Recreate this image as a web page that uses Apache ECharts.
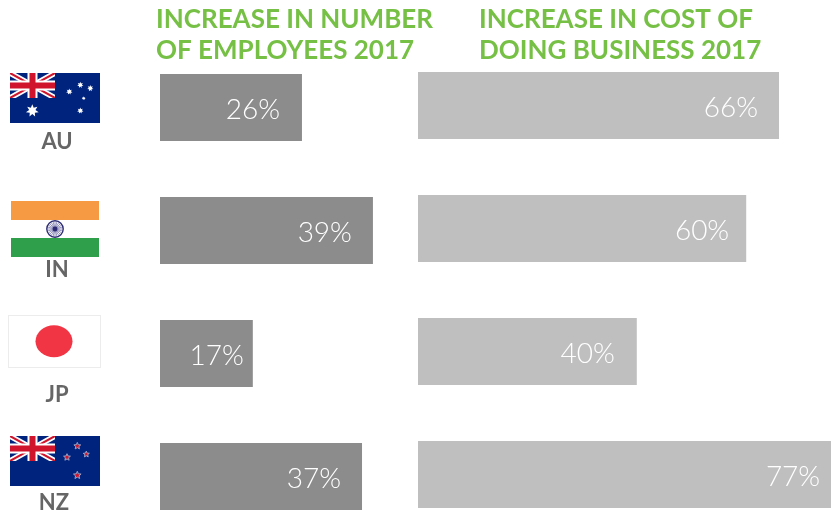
<!DOCTYPE html>
<html>
<head>
<meta charset="utf-8">
<style>html,body{margin:0;padding:0;background:#fff}#chart{width:831px;height:512px}</style>
<script src="https://cdn.jsdelivr.net/npm/echarts@6/dist/echarts.min.js"></script>
</head>
<body>
<div id="chart"></div>
<script>
const countries = ['AU', 'IN', 'JP', 'NZ'];
const employees = [26, 39, 17, 37];
const costs = [66, 60, 40, 77];
const titleEmployees = 'INCREASE IN NUMBER\nOF EMPLOYEES 2017';
const titleCosts = 'INCREASE IN COST OF\nDOING BUSINESS 2017';

const GREEN = '#76c045';
const FONT = 'Lato, "Open Sans", sans-serif';

// Gap between each value label and the end of its bar
const employeeLabelGaps = [22, 21, 9, 21];
const costLabelGaps = [21, 17, 22, 19];

// Five-pointed star path around (cx, cy)
function star(cx, cy, r, fill, stroke) {
  let pts = [];
  for (let i = 0; i < 10; i++) {
    const a = -Math.PI / 2 + i * Math.PI / 5;
    const q = i % 2 ? r * 0.45 : r;
    pts.push((cx + q * Math.cos(a)).toFixed(2) + ',' + (cy + q * Math.sin(a)).toFixed(2));
  }
  return `<polygon points="${pts.join(' ')}" fill="${fill}"${stroke ? ` stroke="${stroke}" stroke-width="1"` : ''}/>`;
}

// Seven-pointed white star used on the Australian flag
function star7(cx, cy, r) {
  let pts = [];
  for (let i = 0; i < 14; i++) {
    const a = -Math.PI / 2 + i * Math.PI / 7;
    const q = i % 2 ? r * 0.5 : r;
    pts.push((cx + q * Math.cos(a)).toFixed(2) + ',' + (cy + q * Math.sin(a)).toFixed(2));
  }
  return `<polygon points="${pts.join(' ')}" fill="#fff"/>`;
}

// Union Jack canton, 45 wide by h tall
function canton(h) {
  return `<svg x="0" y="0" width="45" height="${h}" viewBox="0 0 45 ${h}">
    <rect width="45" height="${h}" fill="#00247d"/>
    <path d="M0 0L45 ${h}M45 0L0 ${h}" stroke="#fff" stroke-width="5.5"/>
    <path d="M0 0L45 ${h}M45 0L0 ${h}" stroke="#cf142b" stroke-width="2"/>
    <rect x="17.5" width="10" height="${h}" fill="#fff"/>
    <rect y="${h / 2 - 5}" width="45" height="10" fill="#fff"/>
    <rect x="19.5" width="6" height="${h}" fill="#cf142b"/>
    <rect y="${h / 2 - 3}" width="45" height="6" fill="#cf142b"/>
  </svg>`;
}

function svgUrl(w, h, body) {
  const svg = `<svg xmlns="http://www.w3.org/2000/svg" width="${w}" height="${h}" viewBox="0 0 ${w} ${h}">${body}</svg>`;
  return 'data:image/svg+xml;charset=utf-8,' + encodeURIComponent(svg);
}

function chakra() {
  let spokes = '';
  for (let i = 0; i < 12; i++) {
    const a = i * Math.PI / 12;
    spokes += `M${(44 - 7.5 * Math.cos(a)).toFixed(2)} ${(28 - 7.5 * Math.sin(a)).toFixed(2)}L${(44 + 7.5 * Math.cos(a)).toFixed(2)} ${(28 + 7.5 * Math.sin(a)).toFixed(2)}`;
  }
  return `<circle cx="44" cy="28" r="8.2" fill="#fff" stroke="#2b2a72" stroke-width="1.4"/>
    <path d="${spokes}" stroke="#6a69a3" stroke-width="0.7"/><circle cx="44" cy="28" r="2.4" fill="#2b2a72"/>`;
}

const flagImages = {
  AU: {
    x: 10, y: 73, w: 90, h: 50,
    src: svgUrl(90, 50,
      '<rect width="90" height="50" fill="#00247d"/>' + canton(25) +
      star7(22.3, 37.7, 6.5) + star7(70.3, 12, 3.2) + star7(59.3, 18.7, 3.2) +
      star7(80.3, 15.3, 3.2) + star7(73.7, 25.3, 2) + star7(70.3, 37.7, 3.2))
  },
  IN: {
    x: 11, y: 201, w: 88, h: 56,
    src: svgUrl(88, 56,
      '<rect width="88" height="56" fill="#fff"/><rect width="88" height="19" fill="#f79a44"/>' +
      '<rect y="37" width="88" height="19" fill="#309f4b"/>' + chakra())
  },
  JP: {
    x: 8, y: 315, w: 93, h: 53,
    src: svgUrl(93, 53,
      '<rect x="0.5" y="0.5" width="92" height="52" fill="#fff" stroke="#ececec"/>' +
      '<ellipse cx="46" cy="26.3" rx="18.5" ry="16" fill="#f13545"/>')
  },
  NZ: {
    x: 10, y: 436, w: 90, h: 50,
    src: svgUrl(90, 50,
      '<rect width="90" height="50" fill="#00247d"/>' + canton(25) +
      star(67.3, 10, 3.6, '#cf142b', '#9aa3c8') + star(57, 21.3, 3.6, '#cf142b', '#9aa3c8') +
      star(76.3, 18.3, 3.2, '#cf142b', '#9aa3c8') + star(67.3, 39.3, 4, '#cf142b', '#9aa3c8'))
  }
};

const codeLabels = [
  { code: 'AU', x: 57, y: 142 },
  { code: 'IN', x: 57, y: 270 },
  { code: 'JP', x: 57, y: 395 },
  { code: 'NZ', x: 54, y: 503 }
];

const graphic = [];
countries.forEach(function (c) {
  const f = flagImages[c];
  graphic.push({ type: 'image', x: f.x, y: f.y, style: { image: f.src, width: f.w, height: f.h } });
});
codeLabels.forEach(function (l) {
  graphic.push({
    type: 'text', x: l.x, y: l.y,
    style: { text: l.code, fill: '#666666', font: 'bold 22px ' + FONT, textAlign: 'center', textVerticalAlign: 'middle' }
  });
});

function valueAxis(i) {
  return { gridIndex: i, type: 'value', min: 0, max: 100, show: false };
}
function catAxis(i) {
  return { gridIndex: i, type: 'category', data: countries, inverse: true, show: false };
}
function barSeries(i, data, gaps, color) {
  return {
    type: 'bar', xAxisIndex: i, yAxisIndex: i, barWidth: 67, clip: false,
    data: data.map(function (v, k) {
      return { value: v, label: { distance: gaps[k] } };
    }),
    itemStyle: { color: color, borderRadius: 0 },
    label: {
      show: true, position: 'insideRight', offset: [0, 2], formatter: '{c}%',
      color: '#fff', fontFamily: FONT, fontWeight: 300, fontSize: 28
    },
    animation: false
  };
}

const chart = echarts.init(document.getElementById('chart'), null, { renderer: 'canvas' });
chart.setOption({
  animation: false,
  backgroundColor: '#fff',
  title: [
    { text: titleEmployees, left: 151, top: -1, textStyle: { color: GREEN, fontFamily: FONT, fontWeight: 'bold', fontSize: 26, lineHeight: 31 } },
    { text: titleCosts, left: 474, top: -1, textStyle: { color: GREEN, fontFamily: FONT, fontWeight: 'bold', fontSize: 26, lineHeight: 31 } }
  ],
  // The last bars run past the page edge, so the grids must keep their full extent
  grid: [
    { left: 160, top: 46, width: 546, height: 492, outerBoundsMode: 'none' },
    { left: 418, top: 44, width: 547, height: 492, outerBoundsMode: 'none' }
  ],
  xAxis: [valueAxis(0), valueAxis(1)],
  yAxis: [catAxis(0), catAxis(1)],
  series: [
    barSeries(0, employees, employeeLabelGaps, '#8c8c8c'),
    barSeries(1, costs, costLabelGaps, '#bfbfbf')
  ],
  graphic: graphic
});
</script>
</body>
</html>
